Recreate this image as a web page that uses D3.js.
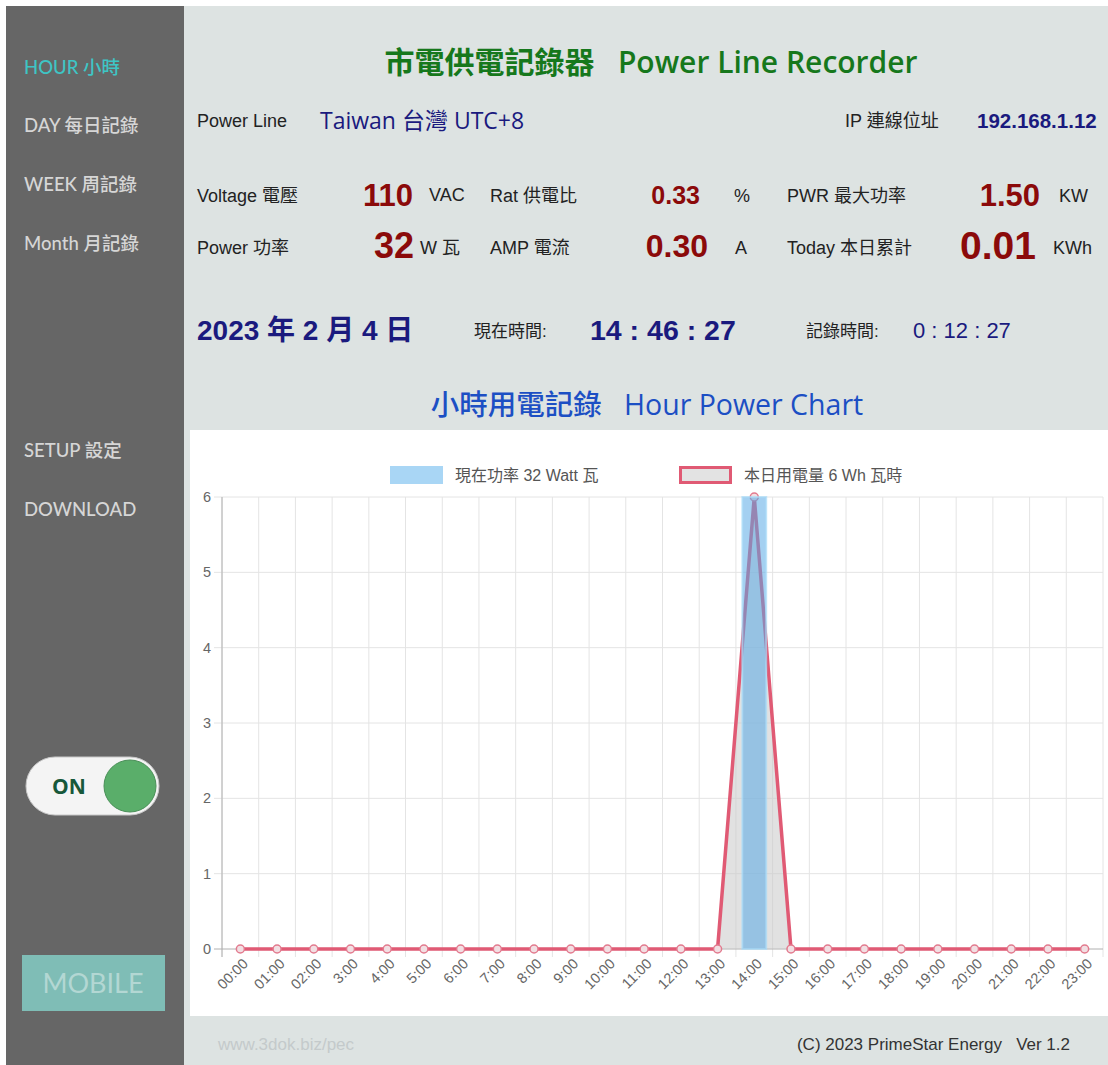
<!DOCTYPE html>
<html>
<head>
<meta charset="utf-8">
<script src="https://cdn.jsdelivr.net/npm/d3@7"></script>
<style>
  html, body { margin: 0; padding: 0; background: #ffffff; }
  svg { display: block; }
  .cjk { font-family: "Liberation Sans", Arial, "Noto Sans CJK TC", sans-serif; }
  .ui { font-family: "Open Sans", "Noto Sans CJK TC", sans-serif; }
  .nav { font-family: Lato, "Noto Sans CJK TC", sans-serif; }
</style>
</head>
<body>
<div id="page"></div>
<script>
// chart data
const hours = ['00:00', '01:00', '02:00', '3:00', '4:00', '5:00', '6:00', '7:00', '8:00', '9:00', '10:00', '11:00',
    '12:00', '13:00', '14:00', '15:00', '16:00', '17:00', '18:00', '19:00', '20:00', '21:00', '22:00', '23:00'];
const powerNow = [0, 0, 0, 0, 0, 0, 0, 0, 0, 0, 0, 0, 0, 0, 6, 0, 0, 0, 0, 0, 0, 0, 0, 0];
const energyToday = [0, 0, 0, 0, 0, 0, 0, 0, 0, 0, 0, 0, 0, 0, 6, 0, 0, 0, 0, 0, 0, 0, 0, 0];
const yTicks = [0, 1, 2, 3, 4, 5, 6];
const legendLabels = ['現在功率 32 Watt 瓦', '本日用電量 6 Wh 瓦時'];
const navItems = ['HOUR 小時', 'DAY 每日記錄', 'WEEK 周記錄', 'Month 月記錄', 'SETUP 設定', 'DOWNLOAD'];

const W = 1108, H = 1065;
const svg = d3.select('#page').append('svg').attr('width', W).attr('height', H);

// backgrounds
svg.append('rect').attr('x', 0).attr('y', 0).attr('width', W).attr('height', H).attr('fill', '#ffffff');
svg.append('rect').attr('x', 6).attr('y', 6).attr('width', 178).attr('height', H - 6).attr('fill', '#666666');
svg.append('rect').attr('x', 184).attr('y', 6).attr('width', W - 184).attr('height', H - 6).attr('fill', '#dde3e2');
svg.append('rect').attr('x', 190).attr('y', 430).attr('width', W - 190).attr('height', 586).attr('fill', '#ffffff');

// sidebar
const navY = [68, 126, 185, 244, 451, 510];
svg.selectAll('.navitem').data(navItems).join('text')
    .attr('class', 'navitem nav')
    .attr('x', 24)
    .attr('y', (d, i) => navY[i])
    .attr('dy', '0.35em')
    .attr('font-size', 18.5)
    .attr('font-weight', 500)
    .attr('fill', (d, i) => i == 0 ? '#3ec5c5' : '#d6d6d6')
    .text(d => d);

// toggle
svg.append('rect').attr('x', 26).attr('y', 757).attr('width', 133).attr('height', 58).attr('rx', 29)
    .attr('fill', '#f4f4f4').attr('stroke', '#c8c8c8');
svg.append('circle').attr('cx', 130).attr('cy', 786).attr('r', 26).attr('fill', '#5aae6a').attr('stroke', '#4a8f58');
svg.append('text').attr('class', 'ui').attr('x', 52).attr('y', 787).attr('dy', '0.35em')
    .attr('font-size', 21).attr('font-weight', 700).attr('fill', '#17583a').text('ON');

// mobile button
svg.append('rect').attr('x', 22).attr('y', 955).attr('width', 143).attr('height', 56).attr('fill', '#7fbdb6');
svg.append('text').attr('class', 'nav').attr('x', 93).attr('y', 984).attr('dy', '0.35em')
    .attr('text-anchor', 'middle').attr('font-size', 27).attr('fill', '#b3d7d3').text('MOBILE');

// header text
function txt(x, y, s, size, color, opts = {}) {
    return svg.append('text')
        .attr('class', opts.cls || 'cjk')
        .attr('x', x).attr('y', y).attr('dy', '0.35em')
        .attr('font-size', size)
        .attr('font-weight', opts.bold ? 700 : 400)
        .attr('text-anchor', opts.anchor || 'start')
        .attr('fill', color)
        .style('white-space', 'pre')
        .text(s);
}
txt(651, 62, '市電供電記錄器   Power Line Recorder', 30, '#16781c', { cls: 'ui', anchor: 'middle' })
    .attr('font-weight', 600);

const dark = '#222222', navy = '#1a1a7e', red = '#8b0a0a';
txt(197, 121, 'Power Line', 18, dark);
txt(320, 121, 'Taiwan 台灣 UTC+8', 23, navy, { cls: 'ui' });
txt(845, 121, 'IP 連線位址', 18, dark);
txt(977, 121, '192.168.1.12', 20.5, navy, { bold: true });

txt(197, 196, 'Voltage 電壓', 18, dark);
txt(413, 195, '110', 31, red, { bold: true, anchor: 'end' });
txt(429, 195, 'VAC', 18, dark);
txt(490, 196, 'Rat 供電比', 18, dark);
txt(700, 195, '0.33', 25, red, { bold: true, anchor: 'end' });
txt(734, 196, '%', 18, dark);
txt(787, 196, 'PWR 最大功率', 18, dark);
txt(1040, 195, '1.50', 31, red, { bold: true, anchor: 'end' });
txt(1059, 196, 'KW', 18, dark);

txt(197, 248, 'Power 功率', 18, dark);
txt(414, 245, '32', 36, red, { bold: true, anchor: 'end' });
txt(420, 248, 'W 瓦', 18, dark);
txt(490, 248, 'AMP 電流', 18, dark);
txt(708, 246, '0.30', 32, red, { bold: true, anchor: 'end' });
txt(735, 248, 'A', 18, dark);
txt(787, 248, 'Today 本日累計', 18, dark);
txt(1036, 245, '0.01', 39, red, { bold: true, anchor: 'end' });
txt(1053, 248, 'KWh', 18, dark);

txt(197, 330, '2023 年 2 月 4 日', 28, navy, { bold: true });
txt(474, 331, '現在時間:', 17, dark);
txt(590, 330, '14 : 46 : 27', 28.5, navy, { bold: true });
txt(806, 331, '記錄時間:', 17, dark);
txt(913, 330, '0 : 12 : 27', 22, navy);

txt(647, 405, '小時用電記錄   Hour Power Chart', 28.5, '#1c4fc4', { cls: 'ui', anchor: 'middle' })
    .attr('font-weight', 500);

// footer
txt(218, 1044, 'www.3dok.biz/pec', 17, '#c4cacb');
txt(1070, 1044, '(C) 2023 PrimeStar Energy   Ver 1.2', 17, '#333333', { anchor: 'end' });

// chart
const plot = { left: 222, right: 1103, top: 497, bottom: 949 };
const x = d3.scaleBand().domain(hours).range([plot.left, plot.right]);
const xc = d => x(d) + x.bandwidth() / 2;
const y = d3.scaleLinear().domain([0, d3.max(yTicks)]).range([plot.bottom, plot.top]);

const g = svg.append('g');

// grid
g.selectAll('.vgrid').data(hours.concat(['end'])).join('line')
    .attr('x1', (d, i) => plot.left + i * x.step())
    .attr('x2', (d, i) => plot.left + i * x.step())
    .attr('y1', plot.top).attr('y2', plot.bottom + 8)
    .attr('stroke', '#e4e4e4');
g.selectAll('.hgrid').data(yTicks).join('line')
    .attr('x1', plot.left - 8).attr('x2', plot.right)
    .attr('y1', d => y(d)).attr('y2', d => y(d))
    .attr('stroke', d => d == 0 ? '#b0b0b0' : '#e4e4e4');
g.append('line').attr('x1', plot.left).attr('x2', plot.left)
    .attr('y1', plot.top).attr('y2', plot.bottom + 8).attr('stroke', '#b0b0b0');

// y axis labels
const yAxis = d3.axisLeft(y).tickValues(yTicks).tickSize(0).tickPadding(11).tickFormat(d3.format('d'));
const ya = g.append('g').attr('transform', `translate(${plot.left},0)`).call(yAxis);
ya.select('.domain').remove();
ya.selectAll('text').attr('font-size', 14.5).attr('fill', '#666').attr('font-family', '"Liberation Sans", Arial, sans-serif');

// x axis labels
g.selectAll('.xlab').data(hours).join('text')
    .attr('class', 'cjk')
    .attr('transform', d => `translate(${xc(d) + 5},${plot.bottom + 12}) rotate(-45)`)
    .attr('text-anchor', 'end')
    .attr('dy', '0.35em')
    .attr('font-size', 14.5)
    .attr('fill', '#666')
    .text(d => d);

// line area + line (drawn under bars)
const lineData = hours.map((h, i) => ({ h, v: energyToday[i] }));
const area = d3.area().x(d => xc(d.h)).y0(y(0)).y1(d => y(d.v));
const line = d3.line().x(d => xc(d.h)).y(d => y(d.v));
g.append('path').attr('d', area(lineData)).attr('fill', 'rgba(200,200,200,0.55)');
g.append('path').attr('d', line(lineData)).attr('fill', 'none')
    .attr('stroke', '#e05a74').attr('stroke-width', 3.5).attr('stroke-linejoin', 'round');
g.selectAll('.pt').data(lineData).join('circle')
    .attr('cx', d => xc(d.h)).attr('cy', d => y(d.v)).attr('r', 4)
    .attr('fill', '#f2dfe3').attr('stroke', '#e27a8e').attr('stroke-width', 1.5);

// bars
const bw = x.bandwidth() * 0.65;
g.selectAll('.bar').data(hours.map((h, i) => ({ h, v: powerNow[i] })).filter(d => d.v > 0)).join('rect')
    .attr('x', d => xc(d.h) - bw / 2)
    .attr('y', d => y(d.v))
    .attr('width', bw)
    .attr('height', d => y(0) - y(d.v))
    .attr('fill', 'rgba(90,170,230,0.55)')
    .attr('stroke', 'rgba(170,220,248,0.7)')
    .attr('stroke-width', 2);

// legend
const legX = [390, 679];
const leg = g.selectAll('.leg').data(legendLabels).join('g')
    .attr('transform', (d, i) => `translate(${legX[i]},466)`);
leg.append('rect')
    .attr('x', (d, i) => i == 0 ? 0 : 1.5).attr('y', (d, i) => i == 0 ? 0 : 1.5)
    .attr('width', (d, i) => i == 0 ? 53 : 50).attr('height', (d, i) => i == 0 ? 18 : 15)
    .attr('fill', (d, i) => i == 0 ? '#a9d6f5' : '#e3e3e3')
    .attr('stroke', (d, i) => i == 0 ? 'none' : '#e05a74')
    .attr('stroke-width', 3);
leg.append('text')
    .attr('class', 'cjk')
    .attr('x', 65).attr('y', 9).attr('dy', '0.35em')
    .attr('font-size', 16).attr('fill', '#555')
    .text(d => d);
</script>
</body>
</html>
